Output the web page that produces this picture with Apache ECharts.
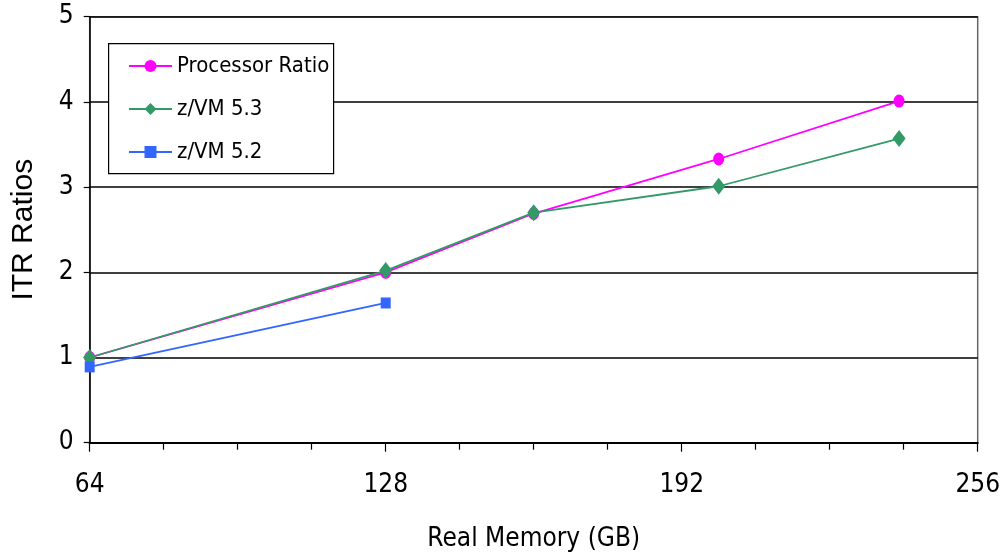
<!DOCTYPE html>
<html>
<head>
<meta charset="utf-8">
<script src="https://cdn.jsdelivr.net/npm/echarts@6/dist/echarts.min.js"></script>
<style>
  html, body { margin: 0; padding: 0; background: #fff; }
  #chart { width: 1000px; height: 558px; }
</style>
</head>
<body>
<div id="chart"></div>
<script>
// Real memory (GB) at each measurement point
const memoryGB = [64, 128, 160, 200, 239];
const memoryGB52 = [64, 128];

// ITR ratios relative to the 64 GB base
const processorRatio = [1.0, 2.0, 2.69, 3.33, 4.01];
const zvm53 = [1.0, 2.02, 2.70, 3.01, 3.57];
const zvm52 = [0.89, 1.64];

const seriesNames = ['Processor Ratio', 'z/VM 5.3', 'z/VM 5.2'];
const xTicks = [64, 128, 192, 256];
const yTicks = [0, 1, 2, 3, 4, 5];

const FONT = '"Liberation Sans Narrow", "DejaVu Sans Condensed", "Liberation Sans", Arial, sans-serif';

const pairs = (xs, ys) => xs.map((x, i) => [x, ys[i]]);

const chart = echarts.init(document.getElementById('chart'), null, { renderer: 'canvas' });

chart.setOption({
  animation: false,
  backgroundColor: '#ffffff',
  grid: {
    left: 89.7, right: 22.3, top: 16.7, bottom: 115.3,
    outerBoundsMode: 'none',
    containLabel: false,
    show: true, borderColor: '#666666', borderWidth: 1.5, backgroundColor: 'transparent'
  },
  graphic: [{
    type: 'rect',
    left: 108, top: 43, z: 3,
    shape: { width: 225, height: 130 },
    style: { fill: '#ffffff', stroke: '#000000', lineWidth: 1.2 }
  }],
  legend: {
    orient: 'vertical',
    left: 128, top: 51,
    padding: 0,
    itemGap: 13,
    itemWidth: 43, itemHeight: 15,
    z: 5,
    data: seriesNames,
    textStyle: { fontFamily: FONT, fontSize: 22, color: '#000', lineHeight: 30 }
  },
  xAxis: {
    type: 'value',
    min: 64, max: 256, interval: 64,
    name: 'Real Memory (GB)',
    nameLocation: 'middle',
    nameGap: 84,
    nameTextStyle: { fontFamily: FONT, fontSize: 26, color: '#000' },
    axisLine: { show: true, onZero: false, lineStyle: { color: '#000', width: 2 } },
    axisTick: { show: true, length: 9, lineStyle: { color: '#000', width: 1.2 } },
    minorTick: { show: true, splitNumber: 4, length: 7, lineStyle: { color: '#000', width: 1.2 } },
    splitLine: { show: false },
    axisLabel: {
      margin: 30, fontFamily: FONT, fontSize: 26, color: '#000',
      customValues: xTicks
    }
  },
  yAxis: {
    type: 'value',
    min: 0, max: 5, interval: 1,
    name: 'ITR Ratios',
    nameLocation: 'middle',
    nameGap: 51,
    nameRotate: 90,
    nameTextStyle: { fontFamily: '"Liberation Sans", Arial, sans-serif', fontSize: 30, color: '#000' },
    axisLine: { show: true, lineStyle: { color: '#000', width: 1.5 } },
    axisTick: { show: true, length: 6, lineStyle: { color: '#000', width: 1.2 } },
    splitLine: { show: true, lineStyle: { color: '#000', width: 1.6 } },
    axisLabel: {
      margin: 16, fontFamily: FONT, fontSize: 26, color: '#000',
      customValues: yTicks
    }
  },
  series: [
    {
      name: seriesNames[0],
      type: 'line',
      data: pairs(memoryGB, processorRatio),
      symbol: 'circle', symbolSize: [11, 13],
      lineStyle: { color: '#ff00ff', width: 1.8 },
      itemStyle: { color: '#ff00ff' },
      z: 2
    },
    {
      name: seriesNames[1],
      type: 'line',
      data: pairs(memoryGB, zvm53),
      symbol: 'diamond', symbolSize: [13, 17],
      lineStyle: { color: '#339966', width: 1.8 },
      itemStyle: { color: '#339966' },
      z: 3
    },
    {
      name: seriesNames[2],
      type: 'line',
      data: pairs(memoryGB52, zvm52),
      symbol: 'rect', symbolSize: [10, 11],
      lineStyle: { color: '#3366ff', width: 1.8 },
      itemStyle: { color: '#3366ff' },
      z: 4
    }
  ]
});
</script>
</body>
</html>
